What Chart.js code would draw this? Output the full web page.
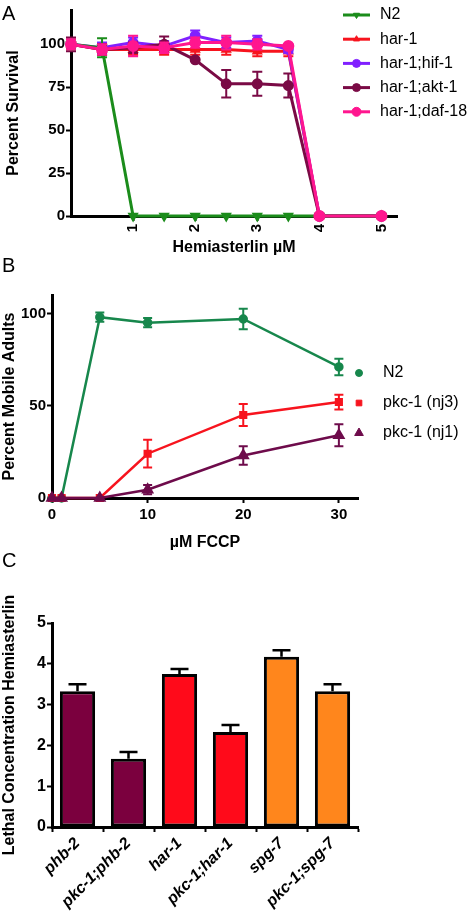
<!DOCTYPE html>
<html>
<head>
<meta charset="utf-8">
<script src="https://cdn.jsdelivr.net/npm/chart.js@4.4.0/dist/chart.umd.min.js"></script>
<style>
  html, body { margin: 0; padding: 0; background: #fff; }
  #page { position: relative; width: 472px; height: 912px; overflow: hidden; font-family: 'Liberation Sans', Arial, sans-serif; }
  canvas { position: absolute; left: 0; }
  .letter { position: absolute; left: 2px; font-size: 20px; line-height: 20px; color: #000; }
</style>
</head>
<body>
<div id="page">
  <canvas id="chartA" width="472" height="262" style="top:0"></canvas>
  <canvas id="chartB" width="472" height="290" style="top:262px"></canvas>
  <canvas id="chartC" width="472" height="360" style="top:552px"></canvas>
  <div class="letter" style="top:3px">A</div>
  <div class="letter" style="top:255px">B</div>
  <div class="letter" style="top:550px">C</div>
</div>
<script>
const FONT = "'Liberation Sans', Arial, Helvetica, sans-serif";

// --- panel A : survival vs hemiasterlin dose
const doseA = [0, 0.5, 1, 1.5, 2, 2.5, 3, 3.5, 4, 5];
const survN2 = [100, 98, 0, 0, 0, 0, 0, 0, 0, 0];
const errN2 = [3, 5.5, 0, 0, 0, 0, 0, 0, 0, 0];
const survHar1 = [100, 97, 97, 97, 97, 97, 96, 96, 0, 0];
const errHar1 = [3, 3, 3, 3, 3, 3, 3, 3, 0, 0];
const survHif1 = [100, 98, 101, 99, 105, 101, 102, 97, 0, 0];
const errHif1 = [3, 3, 3, 3, 3, 3, 3, 2, 0, 0];
const survAkt1 = [100, 97, 98, 100, 91, 77, 77, 76, 0, 0];
const errAkt1 = [4, 3, 3, 4.5, 0, 8, 7, 7, 0, 0];
const survDaf18 = [100, 97, 99, 98, 101, 101, 100, 99, 0, 0];
const errDaf18 = [3, 3, 6, 3, 3, 4, 3, 1, 0, 0];
const xTicksA = [1, 2, 3, 4, 5];
const yTicksA = [0, 25, 50, 75, 100];

// --- panel B : mobile adults vs FCCP
const doseB = [0, 1, 5, 10, 20, 30];
const mobN2 = [0, 0, 98, 95, 97, 71];
const errMobN2 = [0, 0, 2.5, 2.5, 5.5, 4.5];
const mobNj3 = [0, 0, 0, 24, 45, 52];
const errMobNj3 = [0, 0, 0, 7.5, 6, 4];
const mobNj1 = [0, 0, 0, 4.5, 23, 34];
const errMobNj1 = [0, 0, 0, 2.5, 5, 6];
const xTicksB = [0, 10, 20, 30];
const yTicksB = [0, 50, 100];

// --- panel C : lethal concentration
const strains = ['phb-2', 'pkc-1;phb-2', 'har-1', 'pkc-1;har-1', 'spg-7', 'pkc-1;spg-7'];
const lethalConc = [3.33, 1.67, 3.75, 2.33, 4.17, 3.33];
const lethalErr = [0.17, 0.17, 0.12, 0.17, 0.16, 0.17];
const barColors = ['#7b003e', '#7b003e', '#ff0a1a', '#ff0a1a', '#ff861c', '#ff861c'];
const yTicksC = [0, 1, 2, 3, 4, 5];

const pts = (xs, ys) => xs.map((x, i) => ({ x: x, y: ys[i] }));

// vertical error bars, drawn right after each dataset
const errorBars = {
  id: 'errorBars',
  afterDatasetDraw(chart, args) {
    const ds = chart.data.datasets[args.index];
    if (!ds.errors) return;
    const meta = args.meta;
    const yScale = chart.scales[meta.yAxisID];
    const ctx = chart.ctx;
    ctx.save();
    ctx.strokeStyle = ds.errColor || ds.borderColor;
    ctx.lineWidth = ds.errWidth || 2;
    meta.data.forEach((el, j) => {
      const e = ds.errors[j];
      if (!e) return;
      const v = ds.values ? ds.values[j] : ds.data[j].y;
      const x = el.x;
      const yT = yScale.getPixelForValue(v + e);
      const yB = yScale.getPixelForValue(ds.upOnly ? v : v - e);
      const c = ds.capHalf || 5;
      ctx.beginPath();
      ctx.moveTo(x, yT); ctx.lineTo(x, yB);
      ctx.moveTo(x - c, yT); ctx.lineTo(x + c, yT);
      if (!ds.upOnly) { ctx.moveTo(x - c, yB); ctx.lineTo(x + c, yB); }
      ctx.stroke();
    });
    ctx.restore();
  }
};

// legend drawn at a fixed spot
const sideLegend = {
  id: 'sideLegend',
  afterDraw(chart, args, opts) {
    if (!opts || opts.x === undefined) return;
    const ctx = chart.ctx;
    ctx.save();
    ctx.font = '16px ' + FONT;
    ctx.textBaseline = 'middle';
    chart.data.datasets.forEach((ds, i) => {
      const y = opts.y + i * opts.step;
      const mx = opts.x + (opts.lineLen || 0) / 2;
      ctx.strokeStyle = ds.borderColor;
      ctx.fillStyle = ds.borderColor;
      if (opts.lineLen) {
        ctx.lineWidth = 3;
        ctx.beginPath();
        ctx.moveTo(opts.x, y); ctx.lineTo(opts.x + opts.lineLen, y);
        ctx.stroke();
      }
      ctx.lineWidth = 1;
      Chart.helpers.drawPoint(ctx, {
        pointStyle: ds.pointStyle, radius: ds.pointRadius,
        rotation: ds.pointRotation || 0, borderWidth: 1
      }, mx, y);
      ctx.fillStyle = '#000';
      ctx.fillText(ds.label, opts.textX, y);
    });
    ctx.restore();
  }
};

function axis(opts) {
  return Object.assign({
    border: { display: true, color: '#000', width: 3 },
    grid: { display: true, drawOnChartArea: false, drawTicks: true, tickLength: 5, tickWidth: 2, tickColor: '#000' },
  }, opts);
}

function lineSet(label, color, xs, ys, errs, style, radius, order, rot) {
  return {
    label: label, data: pts(xs, ys), errors: errs,
    borderColor: color, backgroundColor: color,
    borderWidth: 3, pointStyle: style, pointRadius: radius,
    pointHoverRadius: radius, pointRotation: rot || 0,
    pointBackgroundColor: color, pointBorderColor: color,
    capHalf: 5, clip: false, order: order, tension: 0
  };
}

Chart.defaults.font.family = FONT;
Chart.defaults.color = '#000';
Chart.defaults.animation = false;

new Chart(document.getElementById('chartA'), {
  type: 'line',
  data: {
    datasets: [
      lineSet('N2', '#1b8c1b', doseA, survN2, errN2, 'triangle', 3.5, 1, 180),
      lineSet('har-1', '#f7141e', doseA, survHar1, errHar1, 'triangle', 3.5, 4),
      lineSet('har-1;hif-1', '#8020ff', doseA, survHif1, errHif1, 'circle', 4, 3),
      lineSet('har-1;akt-1', '#7a0a45', doseA, survAkt1, errAkt1, 'circle', 4, 2),
      lineSet('har-1;daf-18', '#ff168f', doseA, survDaf18, errDaf18, 'circle', 4.5, 0)
    ]
  },
  options: {
    responsive: false,
    layout: { padding: { top: 10, right: 75, left: 0, bottom: 0 } },
    plugins: {
      legend: { display: false }, tooltip: { enabled: false },
      sideLegend: { x: 343, y: 15, step: 24.2, lineLen: 27, textX: 380 }
    },
    scales: {
      x: axis({
        type: 'linear', min: 0, max: 5.25,
        afterBuildTicks: ax => { ax.ticks = xTicksA.map(v => ({ value: v })); },
        afterFit: ax => { ax.height = 46; },
        ticks: { font: { size: 15, weight: 'bold' }, color: '#000', padding: 3, minRotation: 90, maxRotation: 90, autoSkip: false },
        title: { display: true, text: 'Hemiasterlin µM', color: '#000', font: { size: 16, weight: 'bold' }, padding: { top: 0, bottom: 4.5 } }
      }),
      y: axis({
        min: 0, max: 120,
        afterBuildTicks: ax => { ax.ticks = yTicksA.map(v => ({ value: v })); },
        afterFit: ax => { ax.width = 71; },
        ticks: { font: { size: 15, weight: 'bold' }, color: '#000', padding: 1 },
        title: { display: true, text: 'Percent Survival', color: '#000', font: { size: 16, weight: 'bold' }, padding: { top: 3.5, bottom: 0 } }
      })
    }
  },
  plugins: [errorBars, sideLegend]
});

new Chart(document.getElementById('chartB'), {
  type: 'line',
  data: {
    datasets: [
      lineSet('N2', '#17874c', doseB, mobN2, errMobN2, 'circle', 3.5, 2),
      lineSet('pkc-1 (nj3)', '#f7141e', doseB, mobNj3, errMobNj3, 'rect', 4, 1),
      lineSet('pkc-1 (nj1)', '#6e0b4b', doseB, mobNj1, errMobNj1, 'triangle', 5, 0)
    ].map(d => Object.assign(d, { borderWidth: 2.5, capHalf: 4.5 }))
  },
  options: {
    responsive: false,
    layout: { padding: { top: 33, right: 114, left: 0, bottom: 0 } },
    plugins: {
      legend: { display: false }, tooltip: { enabled: false },
      sideLegend: { x: 359, y: 111, step: 30, lineLen: 0, textX: 383 }
    },
    scales: {
      x: axis({
        type: 'linear', min: 0, max: 32,
        afterBuildTicks: ax => { ax.ticks = xTicksB.map(v => ({ value: v })); },
        afterFit: ax => { ax.height = 54; },
        ticks: { font: { size: 15, weight: 'bold' }, color: '#000', padding: 3, maxRotation: 0, autoSkip: false },
        title: { display: true, text: 'µM FCCP', color: '#000', font: { size: 16, weight: 'bold' }, padding: { top: 0, bottom: 0 } }
      }),
      y: axis({
        min: 0, max: 110,
        afterBuildTicks: ax => { ax.ticks = yTicksB.map(v => ({ value: v })); },
        afterFit: ax => { ax.width = 52; },
        ticks: { font: { size: 15, weight: 'bold' }, color: '#000', padding: 1 },
        title: { display: true, text: 'Percent Mobile Adults', color: '#000', font: { size: 16, weight: 'bold' }, padding: { top: 0, bottom: 0 } }
      })
    }
  },
  plugins: [errorBars, sideLegend]
});

new Chart(document.getElementById('chartC'), {
  type: 'bar',
  data: {
    labels: strains,
    datasets: [{
      label: 'Lethal concentration',
      data: lethalConc, values: lethalConc, errors: lethalErr, upOnly: true,
      errColor: '#000', errWidth: 2.5, capHalf: 9,
      backgroundColor: barColors, borderColor: '#000', borderWidth: 3,
      borderSkipped: false, barPercentage: 0.69, categoryPercentage: 1
    }]
  },
  options: {
    responsive: false,
    layout: { padding: { top: 71, right: 114, left: 0, bottom: 0 } },
    plugins: { legend: { display: false }, tooltip: { enabled: false } },
    scales: {
      x: axis({
        afterFit: ax => { ax.height = 85; },
        ticks: { font: { size: 16, weight: 'bold', style: 'italic' }, color: '#000', padding: 2, minRotation: 45, maxRotation: 45, autoSkip: false }
      }),
      y: axis({
        min: 0, max: 5,
        afterBuildTicks: ax => { ax.ticks = yTicksC.map(v => ({ value: v })); },
        afterFit: ax => { ax.width = 52; },
        ticks: { font: { size: 16, weight: 'bold' }, color: '#000', padding: 1 },
        title: { display: true, text: 'Lethal Concentration Hemiasterlin', color: '#000', font: { size: 16, weight: 'bold' }, padding: { top: 0, bottom: 0 } }
      })
    }
  },
  plugins: [errorBars]
});
</script>
</body>
</html>
